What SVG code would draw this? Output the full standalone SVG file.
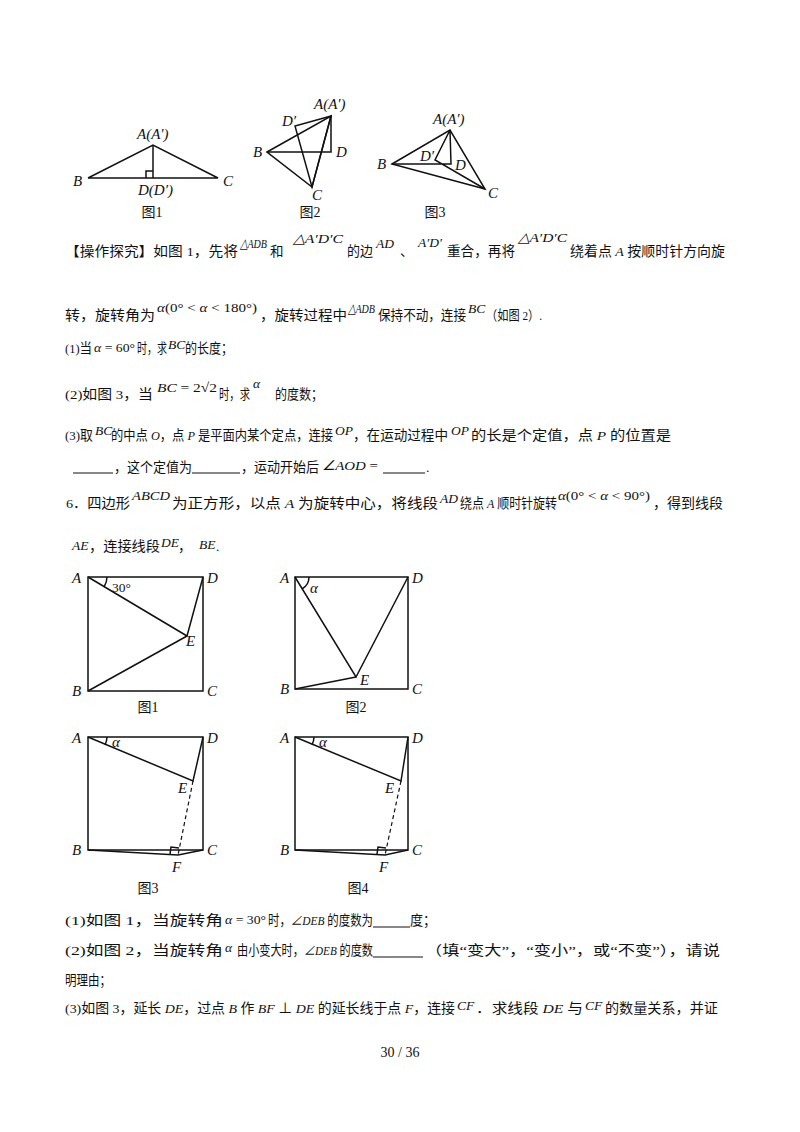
<svg xmlns="http://www.w3.org/2000/svg" width="800" height="1132" viewBox="0 0 800 1132">
<style>
.t{font-family:"Liberation Serif","Noto Sans CJK SC",serif;font-size:13.5px;fill:#111}
.i{font-style:italic}
.m{font-family:"Liberation Serif",serif;font-style:italic;font-size:13.5px;fill:#111}
.l{font-family:"Liberation Serif",serif;font-style:italic;font-size:15px;fill:#111}
.c{font-family:"Liberation Serif","Noto Sans CJK SC",serif;font-size:14px;fill:#111;text-anchor:middle}
.s{stroke:#111;stroke-width:1.5;fill:none}
.d{stroke:#111;stroke-width:1.2;fill:none;stroke-dasharray:4 3}
.u{stroke:#111;stroke-width:1}
</style>
<rect width="800" height="1132" fill="#fff"/>
<g id="fig1">
<polyline class="s" points="88,178 153,145 218,178 88,178"/>
<line class="s" x1="153" y1="145" x2="153" y2="178"/>
<polyline class="s" stroke-width="1" points="146,178 146,171 153,171"/>
<text class="l" x="137" y="139">A(A′)</text><text class="l" x="73" y="186">B</text><text class="l" x="223" y="186">C</text><text class="l" x="138" y="195">D(D′)</text>
<text class="c" x="152" y="217">图1</text>
</g>
<g id="fig2">
<polygon class="s" points="331,116 295,126 312,187"/>
<polygon class="s" points="267,152 331,116 312,187"/>
<polyline class="s" points="267,152 331,152 331,116"/>
<text class="l" x="314" y="109">A(A′)</text><text class="l" x="282" y="126">D′</text><text class="l" x="253" y="157">B</text><text class="l" x="336" y="157">D</text><text class="l" x="312" y="200">C</text>
<text class="c" x="310" y="217">图2</text>
</g>
<g id="fig3">
<polygon class="s" points="392,164 450,130 485,189"/>
<polyline class="s" points="392,164 451,164 450,130 435,160 485,189"/>
<text class="l" x="433" y="124">A(A′)</text><text class="l" x="420" y="161">D′</text><text class="l" x="455" y="170">D</text><text class="l" x="377" y="169">B</text><text class="l" x="488" y="198">C</text>
<text class="c" x="435" y="217">图3</text>
</g>
<g id="text1">
<text class="t" x="65" y="256" textLength="173" lengthAdjust="spacingAndGlyphs">【操作探究】如图 1，先将</text>
<text class="m" x="240" y="248" textLength="27" lengthAdjust="spacingAndGlyphs">△ADB</text>
<text class="t" x="270" y="256">和</text>
<text class="m" x="293" y="243" textLength="50" lengthAdjust="spacingAndGlyphs">△A′D′C</text>
<text class="t" x="347" y="256" textLength="26" lengthAdjust="spacingAndGlyphs">的边</text>
<text class="m" x="376" y="248">AD</text>
<text class="t" x="400" y="256">、</text>
<text class="m" x="418" y="247">A′D′</text>
<text class="t" x="447" y="256" textLength="68" lengthAdjust="spacingAndGlyphs">重合，再将</text>
<text class="m" x="518" y="242" textLength="49" lengthAdjust="spacingAndGlyphs">△A′D′C</text>
<text class="t" x="570" y="256" textLength="155" lengthAdjust="spacingAndGlyphs">绕着点 <tspan class="i">A</tspan> 按顺时针方向旋</text>
<text class="t" x="65" y="320" textLength="90" lengthAdjust="spacingAndGlyphs">转，旋转角为</text>
<text class="m" x="157" y="312" textLength="100" lengthAdjust="spacingAndGlyphs">α<tspan font-style="normal">(0° &lt; </tspan>α<tspan font-style="normal"> &lt; 180°)</tspan></text>
<text class="t" x="260" y="320" textLength="87" lengthAdjust="spacingAndGlyphs">，旋转过程中</text>
<text class="m" x="348" y="313" textLength="27" lengthAdjust="spacingAndGlyphs">△ADB</text>
<text class="t" x="378" y="320" textLength="88" lengthAdjust="spacingAndGlyphs">保持不动，连接</text>
<text class="m" x="468" y="313">BC</text>
<text class="t" x="486" y="320" textLength="56" lengthAdjust="spacingAndGlyphs">（如图 2）.</text>
<text class="t" x="65" y="353" textLength="27" lengthAdjust="spacingAndGlyphs">(1)当</text>
<text class="m" x="94" y="352" textLength="41" lengthAdjust="spacingAndGlyphs">α<tspan font-style="normal"> = 60°</tspan></text>
<text class="t" x="137" y="353" textLength="30" lengthAdjust="spacingAndGlyphs">时，求</text>
<text class="m" x="168" y="349">BC</text>
<text class="t" x="185" y="353" textLength="48" lengthAdjust="spacingAndGlyphs">的长度；</text>
<text class="t" x="65" y="399" textLength="88" lengthAdjust="spacingAndGlyphs">(2)如图 3，当</text>
<text class="m" x="157" y="392" textLength="60" lengthAdjust="spacingAndGlyphs">BC<tspan font-style="normal"> = 2√2</tspan></text>
<text class="t" x="219" y="399" textLength="31" lengthAdjust="spacingAndGlyphs">时，求</text>
<text class="m" x="253" y="388">α</text>
<text class="t" x="275" y="399" textLength="48" lengthAdjust="spacingAndGlyphs">的度数；</text>
<text class="t" x="65" y="440" textLength="28" lengthAdjust="spacingAndGlyphs">(3)取</text>
<text class="m" x="95" y="435">BC</text>
<text class="t" x="111" y="440" textLength="222" lengthAdjust="spacingAndGlyphs">的中点 <tspan class="i">O</tspan>，点 <tspan class="i">P</tspan> 是平面内某个定点，连接</text>
<text class="m" x="335" y="435">OP</text>
<text class="t" x="353" y="440" textLength="95" lengthAdjust="spacingAndGlyphs">，在运动过程中</text>
<text class="m" x="451" y="435">OP</text>
<text class="t" x="471" y="440" textLength="200" lengthAdjust="spacingAndGlyphs">的长是个定值，点 <tspan class="i">P</tspan> 的位置是</text>
<line class="u" x1="73" y1="473" x2="113" y2="473"/>
<text class="t" x="114" y="472" textLength="78" lengthAdjust="spacingAndGlyphs">，这个定值为</text>
<line class="u" x1="192" y1="473" x2="240" y2="473"/>
<text class="t" x="241" y="472" textLength="78" lengthAdjust="spacingAndGlyphs">，运动开始后</text>
<text class="m" x="322" y="470" textLength="56" lengthAdjust="spacingAndGlyphs">∠AOD<tspan font-style="normal"> =</tspan></text>
<line class="u" x1="383" y1="473" x2="425" y2="473"/>
<text class="t" x="426" y="472">.</text>
<text class="t" x="66" y="508" textLength="64" lengthAdjust="spacingAndGlyphs">6．四边形</text>
<text class="m" x="132" y="500" textLength="38" lengthAdjust="spacingAndGlyphs">ABCD</text>
<text class="t" x="172" y="508" textLength="266" lengthAdjust="spacingAndGlyphs">为正方形，以点 <tspan class="i">A</tspan> 为旋转中心，将线段</text>
<text class="m" x="440" y="503">AD</text>
<text class="t" x="460" y="508" textLength="97" lengthAdjust="spacingAndGlyphs">绕点 <tspan class="i">A</tspan> 顺时针旋转</text>
<text class="m" x="558" y="500" textLength="92" lengthAdjust="spacingAndGlyphs">α<tspan font-style="normal">(0° &lt; </tspan>α<tspan font-style="normal"> &lt; 90°)</tspan></text>
<text class="t" x="653" y="508" textLength="70" lengthAdjust="spacingAndGlyphs">，得到线段</text>
<text class="m" x="72" y="550" font-size="12">AE</text>
<text class="t" x="89" y="551" textLength="71" lengthAdjust="spacingAndGlyphs">，连接线段</text>
<text class="m" x="161" y="547">DE</text>
<text class="t" x="178" y="551">，</text>
<text class="m" x="199" y="549" font-size="11">BE</text>
<text class="t" x="216" y="551">.</text>
</g>
<g id="sq1">
<rect class="s" x="88" y="577" width="115" height="114"/>
<polyline class="s" points="88,577 187,636 203,577"/>
<line class="s" x1="88" y1="691" x2="187" y2="636"/>
<path class="s" stroke-width="1" d="M107,577 A19,19 0 0 1 104,587"/>
<text class="t" x="112" y="592" font-size="15">30°</text>
<text class="l" x="72" y="583">A</text><text class="l" x="207" y="583">D</text><text class="l" x="72" y="696">B</text><text class="l" x="207" y="696">C</text><text class="l" x="186" y="646">E</text>
<text class="c" x="148" y="712">图1</text>
</g>
<g id="sq2">
<rect class="s" x="295" y="577" width="113" height="112"/>
<polyline class="s" points="295,577 356,677 408,577"/>
<line class="s" x1="295" y1="689" x2="356" y2="677"/>
<path class="s" stroke-width="1" d="M309,577 A14,14 0 0 1 302,589"/>
<text class="l" x="310" y="593">α</text>
<text class="l" x="280" y="583">A</text><text class="l" x="412" y="583">D</text><text class="l" x="280" y="694">B</text><text class="l" x="412" y="694">C</text><text class="l" x="360" y="685">E</text>
<text class="c" x="356" y="712">图2</text>
</g>
<g id="sq3">
<rect class="s" x="88" y="737" width="115" height="113"/>
<polyline class="s" points="88,737 193,781 203,737"/>
<polyline class="s" points="88,850 178,855 203,850"/>
<line class="d" x1="193" y1="781" x2="178" y2="855"/>
<polyline class="s" stroke-width="1" points="170,854 171,847 179,848"/>
<path class="s" stroke-width="1" d="M107,737 A19,19 0 0 1 105,745"/>
<text class="l" x="112" y="747">α</text>
<text class="l" x="72" y="743">A</text><text class="l" x="207" y="743">D</text><text class="l" x="72" y="855">B</text><text class="l" x="207" y="855">C</text><text class="l" x="178" y="793">E</text><text class="l" x="172" y="872">F</text>
<text class="c" x="148" y="893">图3</text>
</g>
<g id="sq4">
<rect class="s" x="295" y="737" width="113" height="113"/>
<polyline class="s" points="295,737 401,781 408,737"/>
<polyline class="s" points="295,850 385,855 408,850"/>
<line class="d" x1="401" y1="781" x2="385" y2="855"/>
<polyline class="s" stroke-width="1" points="377,854 378,847 386,848"/>
<path class="s" stroke-width="1" d="M314,737 A19,19 0 0 1 312,745"/>
<text class="l" x="319" y="747">α</text>
<text class="l" x="280" y="743">A</text><text class="l" x="412" y="743">D</text><text class="l" x="280" y="855">B</text><text class="l" x="412" y="855">C</text><text class="l" x="385" y="793">E</text><text class="l" x="379" y="872">F</text>
<text class="c" x="358" y="893">图4</text>
</g>
<g id="text2">
<text class="t" x="65" y="925" textLength="158" lengthAdjust="spacingAndGlyphs">(1)如图 1，当旋转角</text>
<text class="m" x="225" y="924" textLength="41" lengthAdjust="spacingAndGlyphs">α<tspan font-style="normal"> = 30°</tspan></text>
<text class="t" x="268" y="925" textLength="105" lengthAdjust="spacingAndGlyphs">时，<tspan class="i">∠DEB</tspan> 的度数为</text>
<line class="u" x1="373" y1="927" x2="410" y2="927"/>
<text class="t" x="410" y="925" textLength="26" lengthAdjust="spacingAndGlyphs">度；</text>
<text class="t" x="65" y="955" textLength="158" lengthAdjust="spacingAndGlyphs">(2)如图 2，当旋转角</text>
<text class="m" x="225" y="952">α</text>
<text class="t" x="237" y="955" textLength="136" lengthAdjust="spacingAndGlyphs">由小变大时，<tspan class="i">∠DEB</tspan> 的度数</text>
<line class="u" x1="373" y1="957" x2="423" y2="957"/>
<text class="t" x="425" y="955" textLength="295" lengthAdjust="spacingAndGlyphs">（填“变大”，“变小”，或“不变”），请说</text>
<text class="t" x="65" y="985" textLength="46" lengthAdjust="spacingAndGlyphs">明理由；</text>
<text class="t" x="65" y="1013" textLength="390" lengthAdjust="spacingAndGlyphs">(3)如图 3，延长 <tspan class="i">DE</tspan>，过点 <tspan class="i">B</tspan> 作 <tspan class="i">BF</tspan> ⊥ <tspan class="i">DE</tspan> 的延长线于点 <tspan class="i">F</tspan>，连接</text>
<text class="m" x="457" y="1010">CF</text>
<text class="t" x="476" y="1013" textLength="107" lengthAdjust="spacingAndGlyphs">．求线段 <tspan class="i">DE</tspan> 与</text>
<text class="m" x="585" y="1010">CF</text>
<text class="t" x="605" y="1013" textLength="113" lengthAdjust="spacingAndGlyphs">的数量关系，并证</text>
<text class="c" x="400" y="1057">30 / 36</text>
</g>
</svg>
